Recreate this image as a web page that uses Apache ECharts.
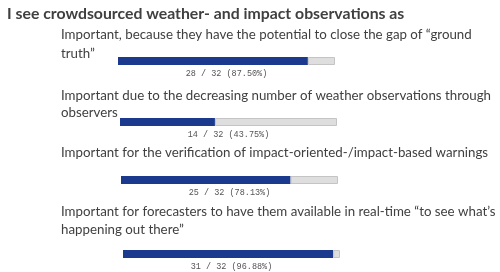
<!DOCTYPE html>
<html><head><meta charset="utf-8">
<script src="https://cdn.jsdelivr.net/npm/echarts@6/dist/echarts.min.js"></script>
<style>html,body{margin:0;padding:0;background:#fff}#c{width:500px;height:272px}</style>
</head><body><div id="c"></div>
<script>
const titleText = "I see crowdsourced weather- and impact observations as";
const questions = [
  ["Important, because they have the potential to close the gap of \u201cground", "truth\u201d"],
  ["Important due to the decreasing number of weather observations through", "observers"],
  ["Important for the verification of impact-oriented-/impact-based warnings"],
  ["Important for forecasters to have them available in real-time \u201cto see what\u2019s", "happening out there\u201d"]
];
const counts = [28, 14, 25, 31];
const totals = [32, 32, 32, 32];

// layout (positions only)
const textTops = [[35, 54], [96, 113], [153], [212, 230]];
const barBoxes = [[118, 57], [120, 118], [121, 176], [123, 250]];
const barW = 217, barH = 8;

const chart = echarts.init(document.getElementById('c'), null, {renderer: 'canvas'});
const grids = [], xAxes = [], yAxes = [], series = [], graphics = [];
const textFont = 'Lato';
questions.forEach((lines, i) => {
  lines.forEach((ln, j) => {
    graphics.push({type: 'text', left: 61, top: textTops[i][j] - 7,
      style: {text: ln, font: '13.3px ' + textFont, fill: '#404040'}});
  });
  grids.push({left: barBoxes[i][0], top: barBoxes[i][1], width: barW, height: barH});
  const pct = (counts[i] / totals[i] * 100).toFixed(2);
  xAxes.push({gridIndex: i, type: 'value', min: 0, max: totals[i], show: true,
    axisLine: {show: false}, axisTick: {show: false}, axisLabel: {show: false}, splitLine: {show: false},
    name: counts[i] + ' / ' + totals[i] + ' (' + pct + '%)', nameLocation: 'middle', nameGap: 4,
    nameTextStyle: {fontFamily: 'Liberation Mono', fontSize: 8.5, color: '#555'}});
  yAxes.push({gridIndex: i, type: 'category', data: [questions[i][0]], show: false});
  series.push({type: 'bar', stack: 's' + i, xAxisIndex: i, yAxisIndex: i, data: [counts[i]], barWidth: barH,
    itemStyle: {color: '#1b3a8e'}, silent: true});
  series.push({type: 'bar', stack: 's' + i, xAxisIndex: i, yAxisIndex: i, data: [totals[i] - counts[i]], barWidth: barH,
    itemStyle: {color: '#dedede', borderColor: '#c4c4c4', borderWidth: 1}, silent: true});
});
chart.setOption({
  animation: false,
  title: {text: titleText, left: 2, top: 1,
    textStyle: {fontFamily: textFont, fontWeight: 'bold', fontSize: 15.8, color: '#404040'}},
  grid: grids, xAxis: xAxes, yAxis: yAxes, series: series,
  graphic: graphics
});
</script></body></html>
